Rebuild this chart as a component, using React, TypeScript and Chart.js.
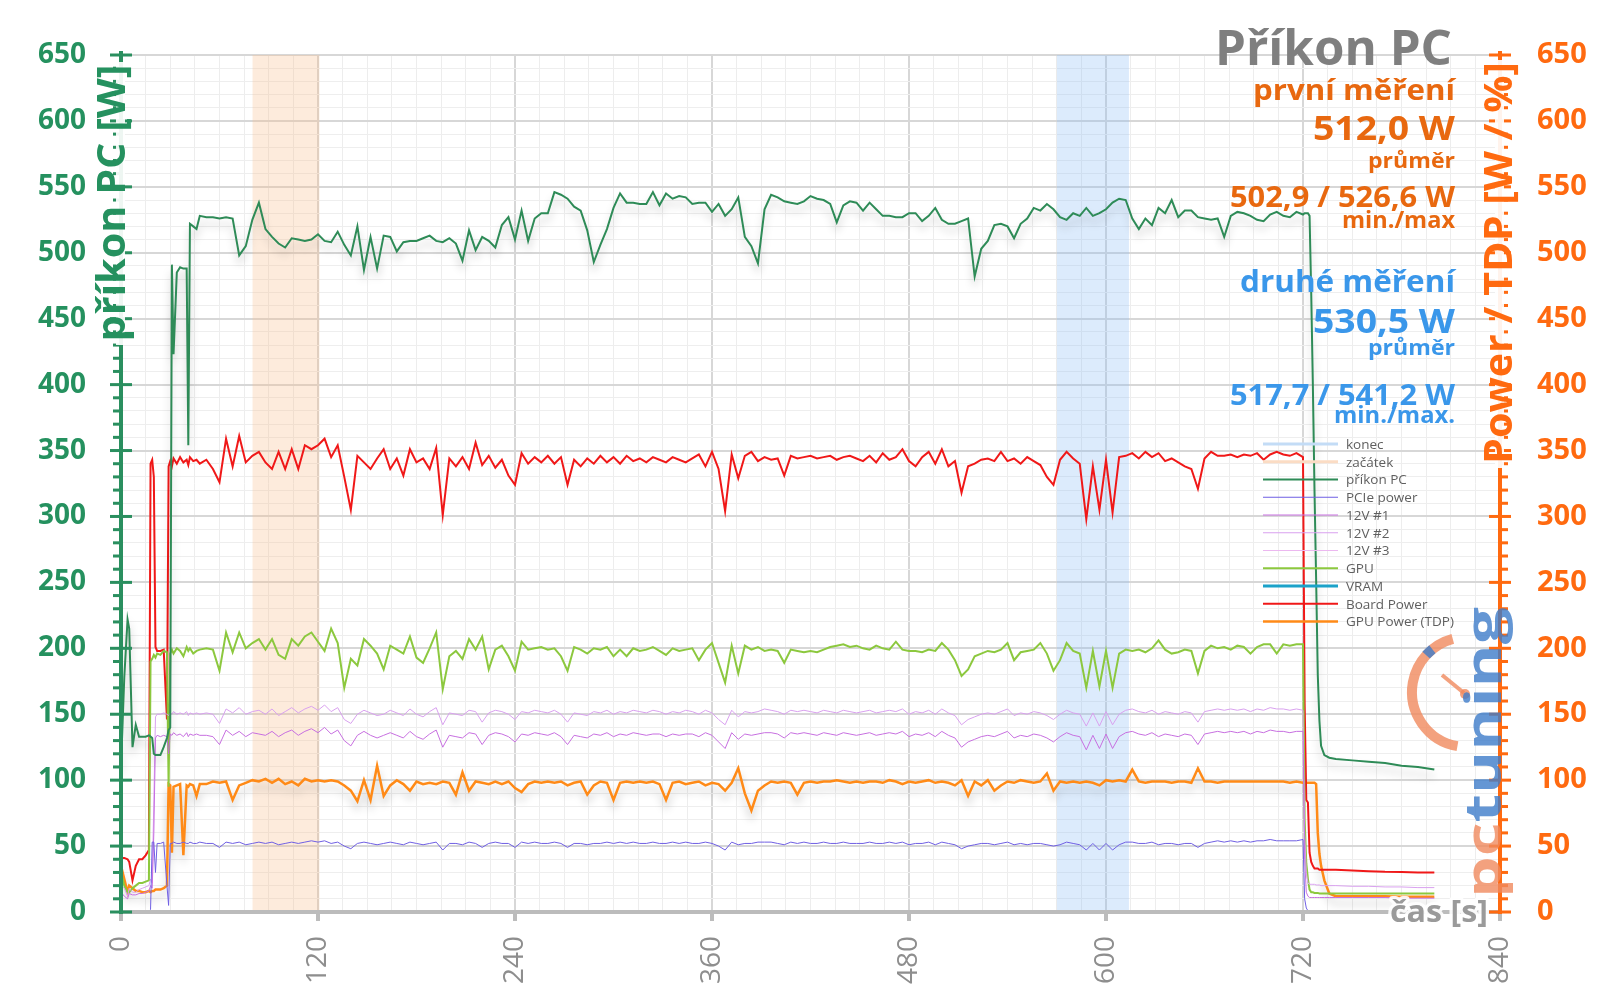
import React, { useEffect, useRef } from "react";
import { Chart, registerables } from "chart.js";

Chart.register(...registerables);

// ---------- time axis (seconds) ----------
const seconds = [
  0, 2, 4, 5, 7, 9, 11, 13, 15, 17, 18, 19, 20, 21, 22, 24, 26, 28, 29, 30, 31, 32, 34, 36, 38, 40, 41, 42, 44, 46, 48,
  52, 56, 60, 64, 68, 72, 76, 80,
  84, 88, 92, 96, 100, 104, 108, 112,
  116, 120, 124, 128, 132, 136, 140, 144,
  148, 152, 156, 160, 164, 168, 172, 176,
  180, 184, 188, 192, 196, 200, 204, 208,
  212, 216, 220, 224, 228, 232, 236, 240,
  244, 248, 252, 256, 260, 264, 268, 272,
  276, 280, 284, 288, 292, 296, 300, 304,
  308, 312, 316, 320, 324, 328, 332, 336,
  340, 344, 348, 352, 356, 360, 364, 368,
  372, 376, 380, 384, 388, 392, 396, 400,
  404, 408, 412, 416, 420, 424, 428, 432,
  436, 440, 444, 448, 452, 456, 460, 464,
  468, 472, 476, 480, 484, 488, 492, 496,
  500, 504, 508, 512, 516, 520, 524, 528,
  532, 536, 540, 544, 548, 552, 556, 560,
  564, 568, 572, 576, 580, 584, 588, 592,
  596, 600, 604, 608, 612, 616, 620, 624,
  628, 632, 636, 640, 644, 648, 652, 656,
  660, 664, 668, 672, 676, 680, 684, 688,
  692, 696, 700, 704, 708, 712, 716, 720,
  721, 722, 723, 724, 725, 726, 727, 728, 729, 730, 731, 733, 736, 740, 750, 760, 770, 780, 790, 800,
];

// ---------- series values ----------
const prikonPC = [
  110, 178, 222, 215, 125, 142, 133, 133, 133, 134, 133, 132, 120, 119, 119, 119, 125, 132, 138, 140, 491, 423, 485, 489, 488, 488, 354, 522, 520, 518, 528,
  527, 527, 526, 527, 526, 498, 505, 525,
  538, 518, 512, 507, 504, 511, 510, 509,
  510, 514, 509, 508, 516, 506, 498, 520,
  487, 512, 488, 513, 512, 501, 508, 509,
  509, 511, 513, 509, 508, 511, 507, 494,
  517, 502, 512, 509, 504, 521, 527, 510,
  532, 509, 526, 530, 530, 546, 544, 541,
  535, 532, 517, 493, 506, 518, 534, 545,
  538, 538, 537, 537, 546, 536, 545, 541,
  543, 542, 537, 538, 538, 531, 537, 528,
  533, 542, 512, 505, 492, 533, 544, 542,
  539, 538, 537, 539, 543, 541, 540, 537,
  523, 536, 539, 538, 532, 538, 533, 528,
  528, 527, 527, 530, 530, 524, 528, 534,
  525, 522, 522, 524, 526, 482, 503, 509,
  521, 522, 520, 511, 522, 526, 534, 532,
  537, 533, 527, 525, 530, 528, 534, 528,
  530, 533, 538, 541, 540, 526, 518, 526,
  521, 534, 530, 540, 527, 532, 532, 527,
  526, 525, 526, 512, 528, 531, 530, 528,
  525, 524, 529, 531, 528, 527, 531, 529,
  530, 530, 530, 528, 470, 400, 320, 252, 180, 145, 126, 119, 117, 116, 115, 114, 113, 111, 110, 108,
];

const boardPower = [
  41, 41, 40, 38, 24, 35, 40, 40, 43, 47, 340, 343, 330, 201, 198, 198, 199, 146, 338, 342, 338, 344, 340, 345, 341, 343, 339, 345, 342, 343, 340,
  343, 336, 326, 359, 338, 361, 341, 346,
  349, 341, 336, 349, 336, 351, 336, 354,
  351, 354, 359, 345, 354, 330, 305, 346,
  341, 336, 344, 351, 336, 344, 331, 351,
  341, 344, 336, 352, 301, 344, 338, 345,
  336, 356, 339, 346, 337, 343, 331, 324,
  348, 340, 345, 341, 346, 340, 345, 324,
  343, 338, 344, 340, 346, 341, 345, 340,
  346, 342, 344, 341, 345, 343, 341, 345,
  343, 341, 344, 347, 338, 349, 336, 304,
  347, 329, 346, 349, 342, 345, 343, 344,
  331, 346, 344, 345, 346, 344, 345, 346,
  343, 345, 346, 344, 342, 346, 341, 348,
  343, 345, 351, 342, 338, 345, 349, 340,
  351, 338, 342, 318, 338, 340, 343, 344,
  342, 349, 342, 344, 340, 345, 342, 339,
  330, 324, 343, 349, 344, 340, 298, 338,
  305, 343, 303, 345, 346, 348, 344, 349,
  345, 348, 342, 344, 341, 338, 336, 321,
  344, 349, 346, 346, 347, 345, 347, 346,
  348, 343, 347, 349, 347, 346, 348, 345,
  158, 85, 83, 45, 38, 35, 33, 33, 33, 32, 32, 32, 32, 32, 31.5, 31, 30.5, 30.3, 30, 30,
];

const gpuChip = [
  30, 20, 15, 15, 18, 20, 22, 22, 23, 24, 190, 192, 195, 193, 196, 195, 198, 197, 95, 196, 199, 196, 200, 198, 194, 201, 198, 200, 196, 198, 199,
  200, 199, 183, 212, 197, 212, 200, 204,
  207, 199, 207, 195, 192, 207, 202, 209,
  212, 205, 198, 215, 204, 170, 192, 187,
  207, 202, 196, 184, 202, 199, 196, 209,
  193, 189, 200, 212, 169, 194, 198, 192,
  207, 199, 209, 184, 199, 202, 194, 183,
  205, 199, 200, 201, 199, 200, 194, 183,
  201, 199, 196, 200, 199, 201, 194, 199,
  194, 200, 198, 199, 201, 198, 195, 200,
  198, 199, 200, 191, 199, 204, 189, 174,
  202, 181, 202, 199, 201, 198, 199, 198,
  189, 199, 198, 197, 198, 197, 199, 201,
  202, 203, 201, 202, 200, 199, 202, 200,
  199, 205, 199, 198, 198, 197, 199, 198,
  204, 199, 191, 179, 184, 194, 196, 198,
  197, 199, 204, 191, 197, 198, 199, 204,
  196, 183, 191, 204, 198, 196, 170, 198,
  171, 198, 170, 196, 199, 198, 199, 197,
  200, 206, 199, 196, 197, 199, 198, 181,
  198, 202, 200, 201, 199, 202, 201, 196,
  201, 203, 203, 196, 203, 202, 203, 203,
  70, 37, 25, 17, 15, 15, 14.5, 14.5, 14.5, 14, 14, 14, 14, 14, 14, 14, 14, 14, 14, 14,
];

const gpuPowerTdp = [
  35, 25, 15, 20, 18, 16, 16, 15, 15, 16, 15, 16, 16, 17, 17, 17, 18, 20, 97, 96, 45, 95, 96, 97, 43, 96, 95, 97, 96, 88, 97,
  97, 99, 98, 99, 85, 96, 98, 100,
  99, 101, 98, 101, 97, 99, 96, 101,
  99, 100, 99, 100, 99, 96, 92, 84,
  100, 85, 111, 88, 96, 100, 97, 92,
  99, 97, 98, 97, 99, 98, 89, 106,
  92, 99, 98, 97, 99, 97, 99, 94,
  91, 97, 99, 98, 99, 98, 99, 96,
  98, 99, 89, 96, 99, 98, 85, 98,
  99, 98, 99, 98, 99, 97, 85, 98,
  99, 97, 98, 99, 96, 98, 97, 92,
  98, 109, 90, 77, 92, 96, 99, 98,
  99, 98, 89, 98, 99, 98, 99, 99,
  100, 99, 98, 99, 98, 99, 99, 98,
  100, 99, 97, 99, 98, 99, 100, 98,
  99, 98, 96, 100, 88, 99, 96, 100,
  92, 96, 99, 98, 100, 99, 98, 99,
  105, 92, 99, 98, 99, 98, 99, 98,
  96, 100, 99, 100, 99, 108, 99, 98,
  99, 99, 99, 98, 99, 99, 98, 109,
  99, 99, 98, 99, 99, 99, 99, 99,
  99, 99, 99, 99, 99, 98, 99, 98,
  98, 98, 98, 98, 98, 98, 98, 97, 60, 44, 35, 24, 14, 12, 12, 12, 12, 11.5, 11.5, 11.5,
];

const rail12v2 = [
  20, 18, 12, 18, 15, 15, 17, 18, 19, 20, 25, 22, 85, 148, 150, 150, 151, 150, 149, 151, 150, 152, 150, 151, 150, 152, 149, 151, 150, 151, 150,
  151, 150, 143, 154, 151, 155, 150, 152,
  153, 150, 154, 149, 152, 155, 151, 154,
  156, 153, 157, 152, 155, 146, 143, 150,
  153, 151, 149, 150, 153, 151, 149, 154,
  150, 148, 152, 155, 142, 151, 150, 149,
  153, 152, 144, 151, 153, 152, 150, 146,
  152, 151, 153, 152, 151, 153, 150, 144,
  151, 150, 149, 152, 151, 153, 150, 152,
  151, 153, 152, 151, 153, 152, 150, 152,
  151, 153, 152, 150, 153, 151, 146, 142,
  153, 148, 152, 151, 152, 154, 153, 152,
  150, 153, 152, 153, 152, 151, 153, 152,
  151, 153, 152, 151, 152, 153, 151, 152,
  153, 152, 154, 150, 152, 151, 153, 150,
  154, 151, 149, 142, 146, 148, 150, 151,
  150, 152, 154, 149, 151, 150, 152, 151,
  149, 146, 150, 153, 151, 150, 141, 151,
  141, 152, 142, 150, 153, 154, 152, 151,
  153, 150, 152, 151, 150, 152, 151, 144,
  152, 153, 154, 153, 154, 153, 154, 152,
  154, 153, 155, 154, 154, 153, 154, 153,
  60, 30, 22, 21, 21, 21, 21, 20.5, 20.5, 20.5, 20, 20, 20, 20, 19.5, 19.5, 19, 19, 18.5, 18.5,
];

const rail12v1 = [
  15, 12, 10, 14, 13, 13, 14, 14, 15, 16, 20, 18, 60, 132, 134, 133, 134, 133, 120, 135, 134, 136, 134, 135, 133, 136, 133, 135, 134, 135, 134,
  134, 133, 127, 138, 134, 137, 133, 136,
  135, 134, 137, 133, 136, 138, 134, 137,
  139, 136, 140, 135, 138, 130, 126, 134,
  137, 134, 132, 134, 136, 134, 132, 137,
  133, 131, 135, 138, 125, 134, 133, 132,
  136, 135, 127, 134, 136, 135, 133, 129,
  135, 134, 136, 135, 134, 136, 133, 127,
  134, 133, 132, 135, 134, 136, 133, 135,
  134, 136, 135, 134, 135, 135, 133, 135,
  134, 135, 135, 133, 136, 134, 129, 124,
  136, 131, 135, 134, 135, 136, 136, 135,
  132, 136, 135, 136, 135, 134, 136, 135,
  134, 136, 135, 134, 135, 136, 134, 135,
  136, 135, 137, 133, 135, 134, 136, 133,
  137, 134, 132, 125, 129, 131, 133, 134,
  133, 135, 137, 132, 134, 133, 135, 134,
  132, 129, 133, 136, 134, 133, 123, 134,
  124, 135, 124, 133, 136, 137, 135, 134,
  136, 133, 135, 134, 133, 135, 134, 127,
  135, 136, 137, 136, 137, 136, 137, 135,
  137, 136, 138, 137, 137, 136, 137, 137,
  40, 15, 12, 11, 11, 11, 11, 11, 11, 11, 11, 11, 11, 11, 11, 11, 11, 10.5, 10.5, 10.5,
];

const pciePower = [
  0, 0, 0, 0, 0, 0, 0, 0, 0, 0, 2, 53, 53, 30, 52, 52, 53, 20, 5, 52, 52, 53, 52, 52, 53, 52, 52, 53, 52, 52, 53,
  52, 52, 49, 53, 52, 53, 51, 52,
  53, 52, 53, 51, 52, 53, 52, 53,
  54, 53, 54, 52, 53, 50, 48, 52,
  53, 52, 51, 52, 53, 52, 51, 53,
  52, 51, 52, 53, 47, 52, 52, 51,
  53, 52, 49, 52, 53, 52, 52, 49,
  53, 52, 53, 52, 52, 53, 52, 49,
  52, 52, 51, 52, 52, 53, 52, 53,
  52, 53, 52, 52, 53, 52, 52, 53,
  52, 53, 52, 52, 53, 52, 50, 47,
  53, 51, 52, 52, 53, 53, 53, 52,
  51, 53, 52, 53, 52, 52, 53, 52,
  52, 53, 52, 52, 52, 53, 52, 52,
  53, 52, 53, 51, 52, 52, 53, 51,
  53, 52, 51, 48, 50, 51, 52, 52,
  51, 52, 53, 51, 52, 51, 52, 52,
  51, 50, 51, 53, 52, 51, 47, 52,
  47, 52, 47, 51, 53, 53, 52, 52,
  53, 51, 52, 52, 51, 52, 52, 49,
  52, 53, 54, 53, 54, 53, 54, 53,
  54, 54, 55, 54, 54, 54, 54, 55,
  10, 3, 1, 0.5, 0.5, 0.5, 0.5, 0.5, 0.5, 0.5, 0.5, 0.5, 0.5, 0.5, 0.5, 0.5, 0.5, 0.5, 0.5, 0.5,
];

const rail12v3: number[] = [];
const vramPower: number[] = [];

// measurement windows (seconds) and top of the shaded band
const zacatekWindow = [80, 121];
const konecWindow = [570, 614];
const bandTop = 650;

// axes
const yMin = 0;
const yMax = 650;
const yMajor = 50;
const yMinor = 10;
const xMin = 0;
const xMax = 840;
const xMajor = 120;
const xMinor = 15;

// texts
const chartTitle = "Příkon PC";
const leftAxisTitle = "příkon PC [W]";
const rightAxisTitle = "Power / TDP [W / %]";
const xAxisTitle = "čas [s]";
const firstRun = ["první měření", "512,0 W", "průměr", "502,9 / 526,6 W", "min./max"];
const secondRun = ["druhé měření", "530,5 W", "průměr", "517,7 / 541,2 W", "min./max."];
const logoA = "pc";
const logoB = "tuning";

const GREEN_TXT = "#25915f";
const ORANGE_AX = "#ff6a10";
const ORANGE_TXT = "#e8680f";
const BLUE_TXT = "#3a97ea";
const FONT = '"Open Sans", "DejaVu Sans", sans-serif';

type SeriesDef = {
  label: string;
  values: number[];
  color: string;
  width: number;
  axis: string;
  shadow?: boolean;
};

const seriesDefs: SeriesDef[] = [
  { label: "příkon PC", values: prikonPC, color: "#2e8b57", width: 2, axis: "y", shadow: true },
  { label: "PCIe power", values: pciePower, color: "#6f5fe3", width: 1, axis: "y2" },
  { label: "12V #1", values: rail12v1, color: "#c76fe0", width: 1, axis: "y2" },
  { label: "12V #2", values: rail12v2, color: "#d9a1ef", width: 1, axis: "y2" },
  { label: "12V #3", values: rail12v3, color: "#ecb8f0", width: 1, axis: "y2" },
  { label: "GPU", values: gpuChip, color: "#8cc83e", width: 2, axis: "y2" },
  { label: "VRAM", values: vramPower, color: "#1ba2c9", width: 3, axis: "y2" },
  { label: "Board Power", values: boardPower, color: "#f01818", width: 2, axis: "y2" },
  { label: "GPU Power (TDP)", values: gpuPowerTdp, color: "#ff8a17", width: 2.5, axis: "y2", shadow: true },
];

function toPoints(vals: number[]) {
  return vals.map((v, i) => ({ x: seconds[i], y: v }));
}

function bandPoints(win: number[]) {
  return [
    { x: win[0], y: bandTop },
    { x: win[1], y: bandTop },
  ];
}

function fitText(
  ctx: CanvasRenderingContext2D,
  text: string,
  x: number,
  y: number,
  size: number,
  weight: string,
  color: string,
  targetW: number,
  align: CanvasTextAlign
) {
  ctx.save();
  ctx.font = `${weight} ${size}px ${FONT}`;
  const w = ctx.measureText(text).width;
  const sx = targetW > 0 && w > 0 ? targetW / w : 1;
  ctx.translate(x, y);
  ctx.scale(sx, 1);
  ctx.textAlign = align;
  ctx.textBaseline = "alphabetic";
  ctx.fillStyle = color;
  ctx.fillText(text, 0, 0);
  ctx.restore();
}

const decorPlugin = {
  id: "decor",
  beforeDatasetDraw(chart: any, args: any) {
    const ds = chart.data.datasets[args.index];
    if (ds.shadow) {
      const c = chart.ctx;
      c.save();
      c.shadowColor = "rgba(0,0,0,0.22)";
      c.shadowBlur = 9;
      c.shadowOffsetY = 7;
    }
  },
  afterDatasetDraw(chart: any, args: any) {
    const ds = chart.data.datasets[args.index];
    if (ds.shadow) chart.ctx.restore();
  },
  afterDraw(chart: any) {
    const ctx: CanvasRenderingContext2D = chart.ctx;
    const { left, right, top, bottom } = chart.chartArea;
    const ys = chart.scales.y;
    ctx.save();

    // x axis line
    ctx.fillStyle = "#bcbcbc";
    ctx.fillRect(left - 2, bottom - 2, right - left + 4, 4);

    // left axis line + ticks
    ctx.fillStyle = "#2a8f5f";
    ctx.fillRect(left - 2, top - 4, 4, bottom - top + 6);
    for (let v = yMin; v <= yMax; v += yMinor) {
      const py = ys.getPixelForValue(v);
      if (v % yMajor === 0) ctx.fillRect(left - 11, py - 1.5, 22, 3);
      else ctx.fillRect(left - 8, py - 1.5, 8, 3);
    }
    // right axis line + ticks
    ctx.fillStyle = ORANGE_AX;
    ctx.fillRect(right - 2, top - 4, 4, bottom - top + 6);
    for (let v = yMin; v <= yMax; v += yMinor) {
      const py = ys.getPixelForValue(v);
      if (v % yMajor === 0) ctx.fillRect(right - 11, py - 1.5, 22, 3);
      else ctx.fillRect(right, py - 1.5, 8, 3);
    }

    // cover axis lines behind the axis titles
    ctx.fillStyle = "rgba(255,255,255,0.92)";
    ctx.fillRect(left - 5, 62, 9, 283);
    ctx.fillRect(right - 5, 60, 9, 408);

    // left axis title
    ctx.save();
    ctx.translate(125, 203);
    ctx.rotate(-Math.PI / 2);
    fitText(ctx, leftAxisTitle, 0, 0, 40, "bold", GREEN_TXT, 277, "center");
    ctx.restore();

    // right axis title
    ctx.save();
    ctx.translate(1512, 263);
    ctx.rotate(-Math.PI / 2);
    fitText(ctx, rightAxisTitle, 0, 0, 40, "bold", ORANGE_AX, 402, "center");
    ctx.restore();

    // x axis title with glow
    ctx.save();
    ctx.font = `bold 30px ${FONT}`;
    const wt = ctx.measureText(xAxisTitle).width;
    const sxt = 98 / wt;
    ctx.translate(1488, 922);
    ctx.scale(sxt, 1);
    ctx.textAlign = "right";
    ctx.lineJoin = "round";
    ctx.strokeStyle = "rgba(255,255,255,0.9)";
    ctx.lineWidth = 6;
    ctx.strokeText(xAxisTitle, 0, 0);
    ctx.fillStyle = "#9a9a9a";
    ctx.fillText(xAxisTitle, 0, 0);
    ctx.restore();

    // title + statistics block
    const rx = 1455;
    fitText(ctx, chartTitle, 1452, 65, 48, "bold", "#7f7f7f", 237, "right");
    fitText(ctx, firstRun[0], rx, 100, 29, "bold", ORANGE_TXT, 202, "right");
    fitText(ctx, firstRun[1], rx, 140, 34, "bold", ORANGE_TXT, 142, "right");
    fitText(ctx, firstRun[2], rx, 168, 22, "bold", ORANGE_TXT, 87, "right");
    fitText(ctx, firstRun[3], rx, 207, 29, "bold", ORANGE_TXT, 225, "right");
    fitText(ctx, firstRun[4], rx, 228, 23, "bold", ORANGE_TXT, 113, "right");
    fitText(ctx, secondRun[0], rx, 292, 30, "bold", BLUE_TXT, 215, "right");
    fitText(ctx, secondRun[1], rx, 333, 34, "bold", BLUE_TXT, 142, "right");
    fitText(ctx, secondRun[2], rx, 355, 22, "bold", BLUE_TXT, 87, "right");
    fitText(ctx, secondRun[3], rx, 405, 29, "bold", BLUE_TXT, 225, "right");
    fitText(ctx, secondRun[4], rx, 423, 23, "bold", BLUE_TXT, 121, "right");

    // legend
    const dsets = chart.data.datasets;
    ctx.font = `13.5px ${FONT}`;
    ctx.textBaseline = "middle";
    ctx.textAlign = "left";
    for (let i = 0; i < dsets.length; i++) {
      const d = dsets[i];
      const ly = 444 + i * 17.75;
      ctx.strokeStyle = d.legendColor || d.borderColor;
      ctx.lineWidth = d.legendWidth || d.borderWidth;
      ctx.beginPath();
      ctx.moveTo(1263, ly);
      ctx.lineTo(1338, ly);
      ctx.stroke();
      ctx.fillStyle = "#5f5f5f";
      ctx.fillText(d.label, 1346, ly + 1);
    }

    // watermark logo
    ctx.globalAlpha = 0.8;
    ctx.strokeStyle = "#f08a5e";
    ctx.lineWidth = 10;
    ctx.beginPath();
    ctx.arc(1467, 692, 55, (100 * Math.PI) / 180, (255 * Math.PI) / 180);
    ctx.stroke();
    ctx.strokeStyle = "#3d7cc9";
    ctx.beginPath();
    ctx.arc(1467, 692, 55, (222 * Math.PI) / 180, (231 * Math.PI) / 180);
    ctx.stroke();
    ctx.strokeStyle = "#f08a5e";
    ctx.lineWidth = 4;
    ctx.beginPath();
    ctx.moveTo(1442, 675);
    ctx.lineTo(1464, 693);
    ctx.stroke();
    ctx.fillStyle = "#f08a5e";
    ctx.beginPath();
    ctx.arc(1465, 694, 5, 0, Math.PI * 2);
    ctx.fill();

    ctx.save();
    ctx.translate(1501, 898);
    ctx.rotate(-Math.PI / 2);
    ctx.font = `bold 50px ${FONT}`;
    const wpc = ctx.measureText(logoA).width;
    const wtn = ctx.measureText(logoB).width;
    const s = 291 / (wpc + wtn);
    ctx.scale(s, 1);
    ctx.textAlign = "left";
    ctx.textBaseline = "alphabetic";
    ctx.fillStyle = "#f08a5e";
    ctx.fillText(logoA, 0, 0);
    ctx.fillStyle = "#3d7cc9";
    ctx.fillText(logoB, wpc, 0);
    ctx.restore();

    ctx.restore();
  },
};

function buildTicks(min: number, max: number, step: number) {
  const out: { value: number }[] = [];
  for (let v = min; v <= max; v += step) out.push({ value: v });
  return out;
}

export default function App() {
  const ref = useRef<HTMLCanvasElement>(null);

  useEffect(() => {
    const canvas = ref.current;
    if (!canvas) return;

    const datasets: any[] = [
      {
        label: "konec",
        data: bandPoints(konecWindow),
        borderColor: "rgba(0,0,0,0)",
        backgroundColor: "rgba(140,190,245,0.30)",
        legendColor: "#c3dcf6",
        legendWidth: 3,
        fill: "origin",
        borderWidth: 0,
        pointRadius: 0,
        yAxisID: "y",
        order: 100,
      },
      {
        label: "začátek",
        data: bandPoints(zacatekWindow),
        borderColor: "rgba(0,0,0,0)",
        backgroundColor: "rgba(250,190,140,0.30)",
        legendColor: "#fbdcc4",
        legendWidth: 3,
        fill: "origin",
        borderWidth: 0,
        pointRadius: 0,
        yAxisID: "y",
        order: 99,
      },
      ...seriesDefs.map((s) => ({
        label: s.label,
        data: toPoints(s.values),
        borderColor: s.color,
        backgroundColor: s.color,
        borderWidth: s.width,
        pointRadius: 0,
        tension: 0,
        fill: false,
        yAxisID: s.axis,
        shadow: !!s.shadow,
        order: 0,
      })),
    ];

    const chart = new Chart(canvas, {
      type: "line",
      data: { datasets },
      plugins: [decorPlugin as any],
      options: {
        responsive: false,
        animation: false,
        devicePixelRatio: 1,
        layout: { padding: { top: 55, left: 0, right: 0, bottom: 0 } },
        plugins: {
          legend: { display: false },
          title: { display: false },
          tooltip: { enabled: false },
        },
        scales: {
          x: {
            type: "linear",
            min: xMin,
            max: xMax,
            afterBuildTicks: (sc: any) => {
              sc.ticks = buildTicks(xMin, xMax, xMinor);
            },
            afterFit: (sc: any) => {
              sc.height = 96;
            },
            border: { display: false },
            grid: {
              color: (c: any) => (c.tick && c.tick.value % xMajor === 0 ? "#d7d7d7" : "#ededed"),
              lineWidth: (c: any) => (c.tick && c.tick.value % xMajor === 0 ? 2 : 1),
              drawTicks: true,
              tickLength: 9,
              tickWidth: 4,
              tickColor: (c: any) => (c.tick && c.tick.value % xMajor === 0 ? "#bcbcbc" : "rgba(0,0,0,0)"),
            },
            ticks: {
              autoSkip: false,
              minRotation: 90,
              maxRotation: 90,
              padding: 15,
              color: "#8e8e8e",
              font: { family: FONT, size: 28 },
              callback: (v: any) => (Number(v) % xMajor === 0 ? String(v) : ""),
            },
          },
          y: {
            type: "linear",
            position: "left",
            min: yMin,
            max: yMax,
            afterBuildTicks: (sc: any) => {
              sc.ticks = buildTicks(yMin, yMax, yMinor);
            },
            afterFit: (sc: any) => {
              sc.width = 121;
            },
            border: { display: false },
            grid: {
              color: (c: any) => (c.tick && c.tick.value % yMajor === 0 ? "#d7d7d7" : "#eeeeee"),
              lineWidth: (c: any) => (c.tick && c.tick.value % yMajor === 0 ? 2 : 1),
              drawTicks: false,
            },
            ticks: {
              autoSkip: false,
              padding: 35,
              color: GREEN_TXT,
              font: { family: FONT, size: 28, weight: "bold" },
              callback: (v: any) => (Number(v) % yMajor === 0 ? String(v) : ""),
            },
          },
          y2: {
            type: "linear",
            position: "right",
            min: yMin,
            max: yMax,
            afterBuildTicks: (sc: any) => {
              sc.ticks = buildTicks(yMin, yMax, yMajor);
            },
            afterFit: (sc: any) => {
              sc.width = 100;
            },
            border: { display: false },
            grid: { drawOnChartArea: false, drawTicks: false },
            ticks: {
              autoSkip: false,
              padding: 37,
              color: ORANGE_AX,
              font: { family: FONT, size: 29, weight: "bold" },
            },
          },
        },
      } as any,
    });

    return () => chart.destroy();
  }, []);

  return (
    <div style={{ position: "fixed", left: 0, top: 0, width: 1600, height: 1008, background: "#ffffff" }}>
      <canvas ref={ref} width={1600} height={1008} style={{ width: 1600, height: 1008, display: "block" }} />
    </div>
  );
}
